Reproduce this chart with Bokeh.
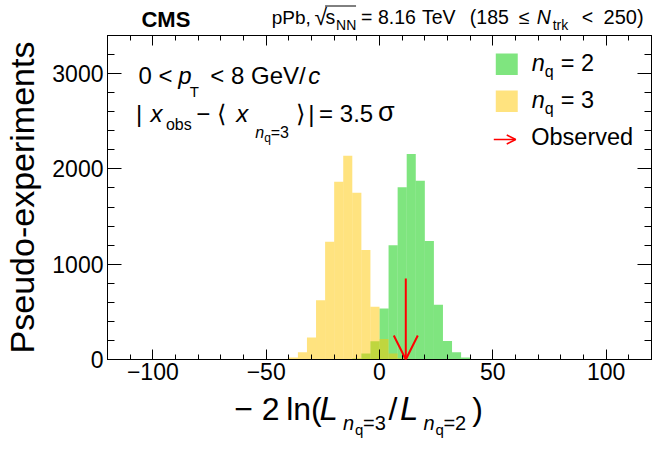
from bokeh.plotting import figure
from bokeh.layouts import column
from bokeh.models import (Label, Arrow, OpenHead, BoxAnnotation, LinearAxis,
                          SingleIntervalTicker)
from bokeh.embed import file_html
from bokeh.resources import INLINE

# ---------------- data ----------------
bin_edges = [-44, -40, -36, -32, -28, -24, -20, -16, -12, -8, -4, 0,
             4, 8, 12, 16, 20, 24, 28, 32, 36, 40, 44]
counts_nq2 = [0, 0, 0, 0, 0, 0, 0, 1, 10, 63, 192, 536,
              1200, 1807, 2157, 1876, 1243, 574, 195, 77, 21, 4]
counts_nq3 = [4, 21, 77, 231, 623, 1235, 1866, 2139, 1750, 1148, 553, 216,
              63, 12, 2, 0, 0, 0, 0, 0, 0, 0]
observed = 11.6
arrow_top = 850
x_ticks_major = [-100, -50, 0, 50, 100]
x_tick_labels = ["\u2212100", "\u221250", "0", "50", "100"]
y_ticks_major = [0, 1000, 2000, 3000]
y_title = "Pseudo-experiments"

XMIN, XMAX = -120, 120
YMIN, YMAX = 0, 3400

GREEN = "#00cc00"
YELLOW = "#ffc800"
FONT = "Liberation Sans"

# ---------------- layout (page pixels) ----------------
W = 656
FL, FR, FT, FB = 106, 651, 35, 359   # frame edges
MAIN_BOTTOM = 388                     # main figure ends here
TOTAL_H = 442
K_BASE = 0.36                         # label anchor -> glyph baseline offset (x font size)


def X(px):
    return XMIN + (px - FL) * (XMAX - XMIN) / (FR - FL)


def Y(py):
    return YMIN + (FB - py) * (YMAX - YMIN) / (FB - FT)


def strip(y0, y1):
    # a text strip whose frame spans page x FL..FR, y y0..y1 (pixel = data)
    f = figure(width=W, height=y1 - y0, x_range=(FL, FR), y_range=(y1, y0),
               output_backend="svg", toolbar_location=None,
               x_axis_location=None, y_axis_location=None,
               min_border_left=FL, min_border_right=W - FR,
               min_border_top=0, min_border_bottom=0)
    f.outline_line_color = None
    f.grid.visible = False
    f.background_fill_color = "white"
    f.border_fill_color = "white"
    return f


header = strip(0, FT)
xlab = strip(MAIN_BOTTOM, TOTAL_H)

p = figure(width=W, height=MAIN_BOTTOM - FT, x_range=(XMIN, XMAX), y_range=(YMIN, YMAX),
           output_backend="svg", toolbar_location=None,
           min_border_left=FL, min_border_top=0,
           min_border_right=W - FR, min_border_bottom=MAIN_BOTTOM - FB)
p.grid.visible = False
p.outline_line_color = "black"
p.outline_line_width = 1
p.background_fill_color = "white"
p.border_fill_color = "white"


def style_axis(ax, tin, tmin, labels=True, ticks=()):
    ax.major_tick_in = tin
    ax.major_tick_out = 0
    ax.minor_tick_in = tmin
    ax.minor_tick_out = 0
    ax.axis_line_color = "black"
    ax.major_tick_line_color = "black"
    ax.minor_tick_line_color = "black"
    if labels:
        ax.major_label_text_font = FONT
        ax.major_label_text_font_size = "23px"
        ax.major_label_text_color = "black"
        ax.major_label_standoff = 3
    else:
        ax.major_label_overrides = {t: "" for t in ticks}
        ax.major_label_text_font_size = "1px"
        ax.major_label_standoff = 0


p.xaxis[0].ticker = SingleIntervalTicker(interval=50, num_minor_ticks=5)
p.yaxis[0].ticker = SingleIntervalTicker(interval=1000, num_minor_ticks=5)
p.xaxis[0].major_label_overrides = dict(zip(x_ticks_major, x_tick_labels))
style_axis(p.xaxis[0], 10, 5)
style_axis(p.yaxis[0], 14, 7)
p.yaxis[0].major_label_standoff = 4
p.yaxis[0].axis_label = y_title
p.yaxis[0].axis_label_text_font = FONT
p.yaxis[0].axis_label_text_font_size = "34px"
p.yaxis[0].axis_label_text_font_style = "normal"
p.yaxis[0].axis_label_text_color = "black"
p.yaxis[0].axis_label_standoff = 8

top_ax = LinearAxis(ticker=SingleIntervalTicker(interval=50, num_minor_ticks=5))
right_ax = LinearAxis(ticker=SingleIntervalTicker(interval=1000, num_minor_ticks=5))
style_axis(top_ax, 10, 5, labels=False, ticks=x_ticks_major)
style_axis(right_ax, 14, 7, labels=False, ticks=y_ticks_major)
p.add_layout(top_ax, "above")
p.add_layout(right_ax, "right")

# ---------------- histograms ----------------
lefts = bin_edges[:-1]
rights = bin_edges[1:]
p.quad(left=lefts, right=rights, bottom=0, top=counts_nq2,
       fill_color=GREEN, fill_alpha=0.5, line_color=None)
p.quad(left=lefts, right=rights, bottom=0, top=counts_nq3,
       fill_color=YELLOW, fill_alpha=0.5, line_color=None)

p.add_layout(Arrow(x_start=observed, y_start=arrow_top, x_end=observed, y_end=0,
                   line_color="red", line_width=2,
                   end=OpenHead(size=24, line_color="red", line_width=2)))


# ---------------- texts ----------------
def lab(fig, text, px, py, size, style="normal", conv=True):
    py = py - K_BASE * size
    x, y = (X(px), Y(py)) if conv else (px, py)
    fig.add_layout(Label(x=x, y=y, text=text, text_font=FONT,
                         text_font_size=f"{size}px", text_font_style=style,
                         text_align="left", text_baseline="alphabetic",
                         text_color="black"))


def hl(text, px, py, size, style="normal"):
    lab(header, text, px, py, size, style, conv=False)


def xl(text, px, py, size, style="normal"):
    lab(xlab, text, px, py, size, style, conv=False)


def pl(text, px, py, size, style="normal"):
    lab(p, text, px, py, size, style)


# header
hl("CMS", 140, 27, 22, "bold")
hl("pPb,", 270.5, 24, 19)
hl("\u221a", 313.5, 25, 23)
header.add_layout(Arrow(x_start=324, y_start=5.5, x_end=355, y_end=5.5,
                        end=None, line_color="black", line_width=1))
hl("s", 324.5, 24, 19.5)
hl("NN", 335, 29.5, 14)
hl("=", 360, 24, 19.5)
hl("8.16", 377, 24, 19.5)
hl("TeV", 421, 24, 19.5)
hl("(185", 469, 24, 19.5)
hl("\u2264", 518, 24, 19.5)
hl("N", 536, 24, 19.5, "italic")
hl("trk", 552, 29.5, 14)
hl("<", 581, 24, 19.5)
hl("250)", 603, 24, 20)

# info lines (inside frame)
pl("0 <", 137, 83.3, 24)
pl("p", 177, 83.3, 24, "italic")
pl("T", 188.5, 96.5, 15)
pl("< 8 GeV/", 209, 83.3, 24)
pl("c", 307, 83.3, 24, "italic")

pl("|", 134.5, 121.7, 24)
pl("x", 149, 121.7, 24, "italic")
pl("obs", 164.5, 129.5, 16)
pl("\u2212", 195, 121.7, 24)
pl("\u27e8", 216, 121.7, 24)
pl("x", 235, 121.7, 24, "italic")
pl("n", 254, 138, 16, "italic")
pl("q", 263, 141.5, 12)
pl("=3", 269.5, 138, 16)
pl("\u27e9", 294.5, 121.7, 24)
pl("|", 307, 121.7, 24)
pl("= 3.5", 318, 121.7, 24)
pl("\u03c3", 377, 121.7, 27)

# legend
p.add_layout(BoxAnnotation(left=X(495), right=X(517), top=Y(53), bottom=Y(74.5),
                           fill_color=GREEN, fill_alpha=0.5, line_color=None))
p.add_layout(BoxAnnotation(left=X(495), right=X(517), top=Y(90), bottom=Y(111.5),
                           fill_color=YELLOW, fill_alpha=0.5, line_color=None))
pl("n", 531, 71, 23.5, "italic")
pl("q", 544, 76.5, 16)
pl("= 2", 560, 71, 23.5)
pl("n", 531, 108.3, 23.5, "italic")
pl("q", 544, 113.8, 16)
pl("= 3", 560, 108.3, 23.5)
p.add_layout(Arrow(x_start=X(493), y_start=Y(139), x_end=X(515), y_end=Y(139),
                   line_color="red", line_width=1.5,
                   end=OpenHead(size=9, line_color="red", line_width=1.5)))
pl("Observed", 530.5, 145, 23.5)

# x-axis title
xl("\u2212 2", 233, 420, 32)
xl("ln(", 285, 420, 32)
xl("L", 318.5, 420, 33, "italic")
xl("n", 342, 430, 20, "italic")
xl("q", 354, 434, 15)
xl("=3", 362, 430, 20)
xl("/", 387.5, 420, 32)
xl("L", 399, 420, 33, "italic")
xl("n", 422.5, 430, 20, "italic")
xl("q", 434.5, 434, 15)
xl("=2", 442.5, 430, 20)
xl(")", 471.5, 420, 32)

layout = column(header, p, xlab, spacing=0)
open("out.html", "w").write(file_html(layout, INLINE))
